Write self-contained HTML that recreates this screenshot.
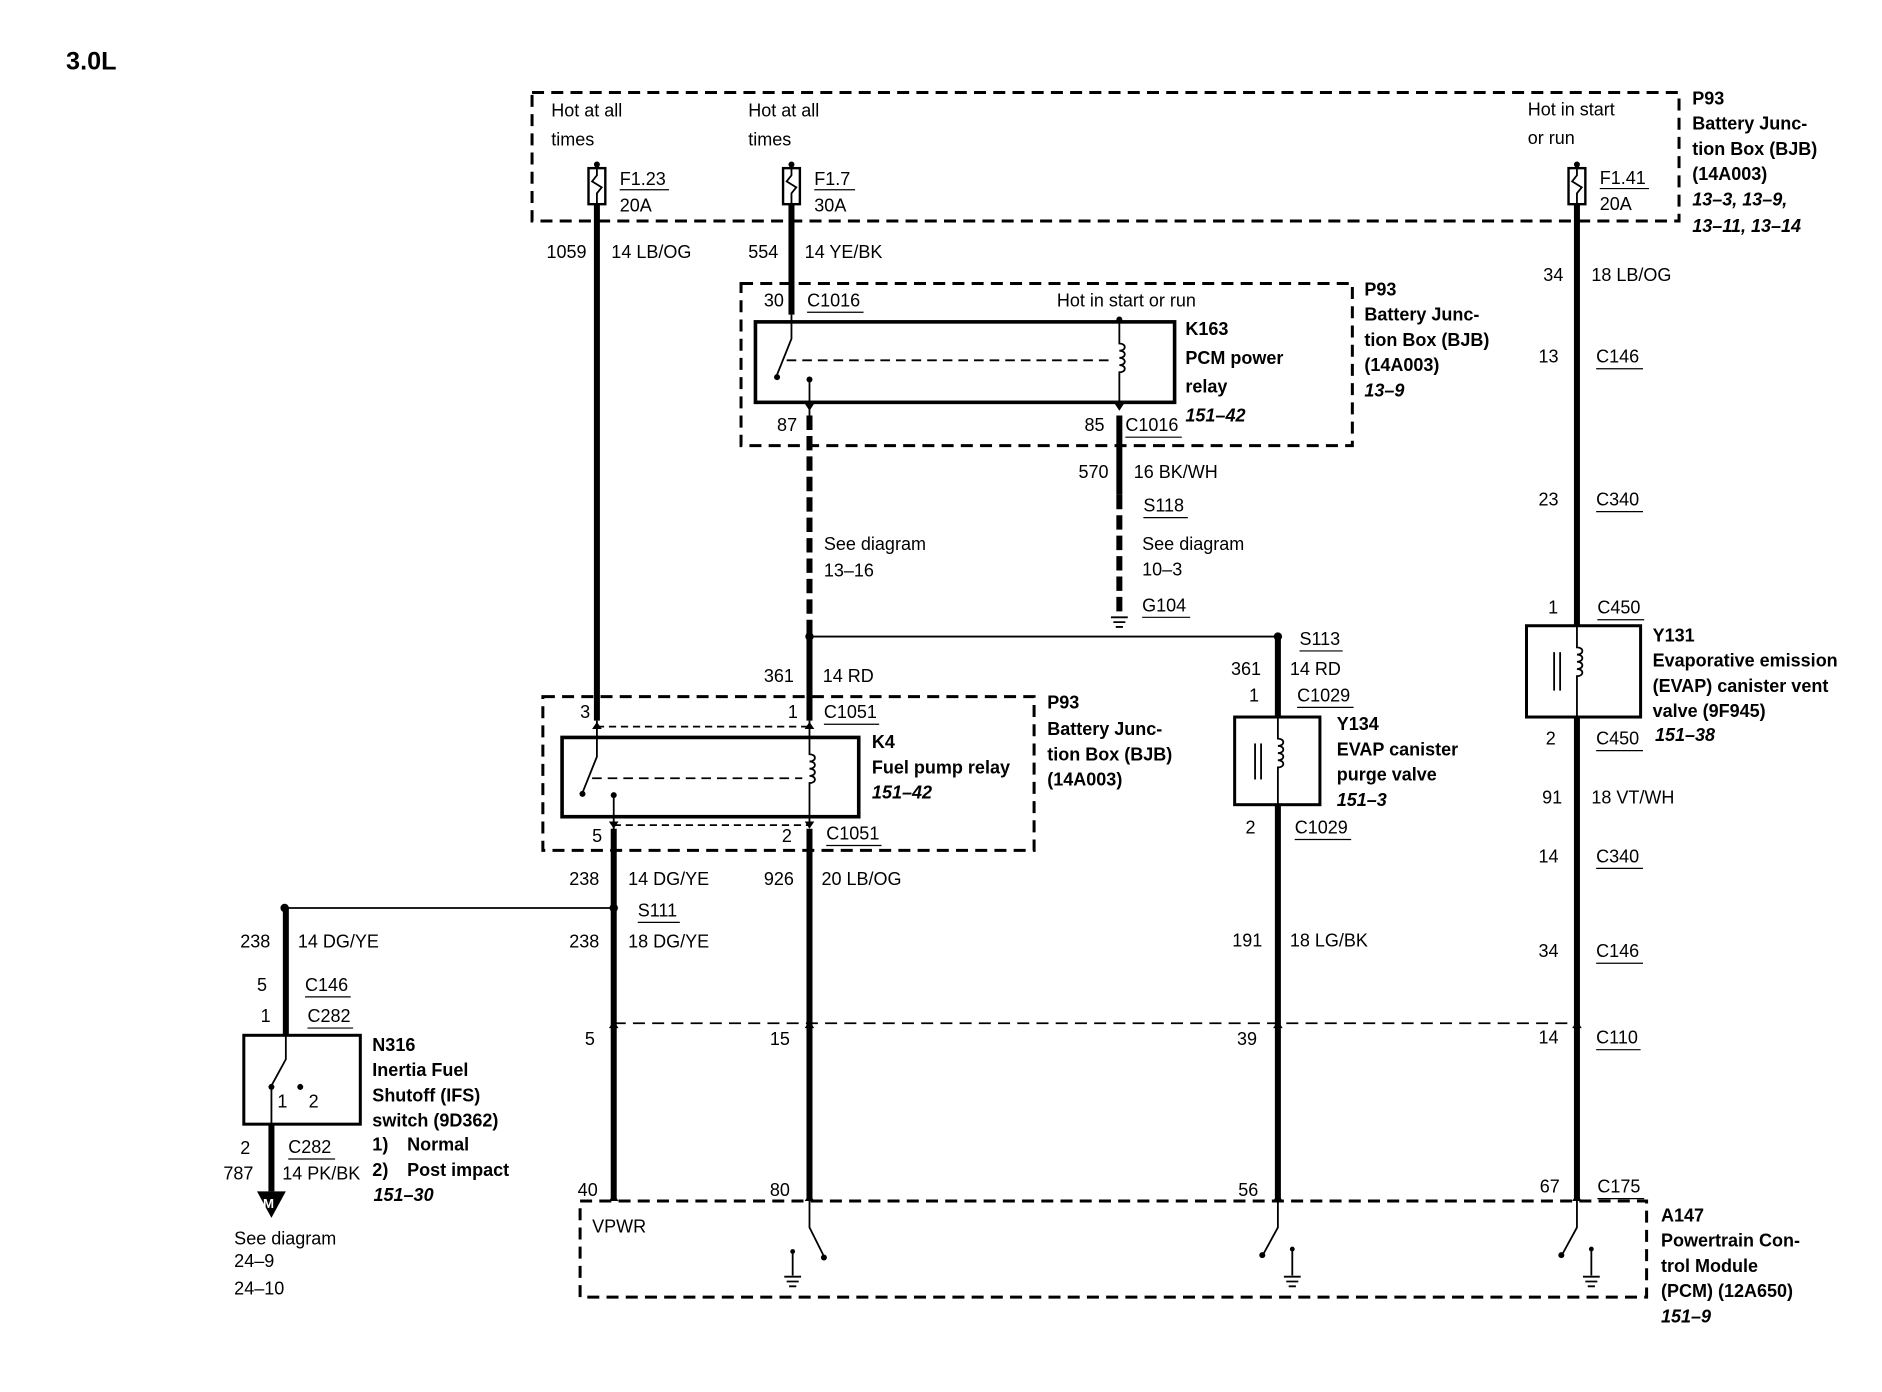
<!DOCTYPE html>
<html><head><meta charset="utf-8"><style>
html,body{margin:0;padding:0;background:#fff}
svg{display:block}
text{font-family:"Liberation Sans",sans-serif;font-size:15px;fill:#000}
.b{font-weight:bold}
.i{font-weight:bold;font-style:italic}
.box{fill:none;stroke:#000;stroke-width:2.5;stroke-dasharray:10 6}
.w{stroke:#000;stroke-width:5;fill:none}
.t{stroke:#000;stroke-width:1.5;fill:none}
.u{stroke:#000;stroke-width:1}
</style></head><body>
<svg width="1882" height="1392" viewBox="0 0 1567 1159" preserveAspectRatio="none">
<text x="55" y="58" class="b" style="font-size:21px">3.0L</text>

<rect class="box" x="443" y="77" width="955" height="107"/>
<text x="459" y="97">Hot at all</text><text x="459" y="121">times</text>
<text x="623" y="97">Hot at all</text><text x="623" y="121">times</text>
<text x="1272" y="96">Hot in start</text><text x="1272" y="120">or run</text>
<g id="fuses">
<rect x="490" y="140" width="14" height="30" fill="#fff" stroke="#000" stroke-width="2"/>
<path d="M497 140v6l-4 5 8 5-4 5v9" class="t"/>
<rect x="652" y="140" width="14" height="30" fill="#fff" stroke="#000" stroke-width="2"/>
<path d="M659 140v6l-4 5 8 5-4 5v9" class="t"/>
<rect x="1306" y="140" width="14" height="30" fill="#fff" stroke="#000" stroke-width="2"/>
<path d="M1313 140v6l-4 5 8 5-4 5v9" class="t"/>
<circle cx="497" cy="137" r="2.5"/><circle cx="659" cy="137" r="2.5"/><circle cx="1313" cy="137" r="2.5"/>
</g>
<text x="516" y="154">F1.23</text><line class="u" x1="516" y1="158" x2="557" y2="158"/><text x="516" y="176">20A</text>
<text x="678" y="154">F1.7</text><line class="u" x1="678" y1="158" x2="712" y2="158"/><text x="678" y="176">30A</text>
<text x="1332" y="153">F1.41</text><line class="u" x1="1332" y1="157" x2="1373" y2="157"/><text x="1332" y="175">20A</text>
<text x="1409" y="87" class="b">P93</text>
<text x="1409" y="108" class="b">Battery Junc-</text>
<text x="1409" y="129" class="b">tion Box (BJB)</text>
<text x="1409" y="150" class="b">(14A003)</text>
<text x="1409" y="171" class="i">13–3, 13–9,</text>
<text x="1409" y="193" class="i">13–11, 13–14</text>

<line class="w" x1="497" y1="170" x2="497" y2="600"/>
<text x="455" y="215">1059</text><text x="509" y="215">14 LB/OG</text>
<line class="w" x1="659" y1="170" x2="659" y2="262"/>
<text x="623" y="215">554</text><text x="670" y="215">14 YE/BK</text>
<line class="w" x1="1313" y1="170" x2="1313" y2="521"/>
<line class="w" x1="1313" y1="597" x2="1313" y2="1000"/>
<text x="1285" y="234">34</text><text x="1325" y="234">18 LB/OG</text>
<text x="1281" y="302">13</text><text x="1329" y="302">C146</text><line class="u" x1="1329" y1="307" x2="1368" y2="307"/>
<text x="1281" y="421">23</text><text x="1329" y="421">C340</text><line class="u" x1="1329" y1="426" x2="1368" y2="426"/>
<text x="1289" y="511">1</text><text x="1330" y="511">C450</text><line class="u" x1="1330" y1="516" x2="1369" y2="516"/>
<rect x="1271" y="521" width="95" height="76" fill="#fff" stroke="#000" stroke-width="2.5"/>
<path d="M1313 521v18c6 0 6 6 0 6c6 0 6 6 0 6c6 0 6 6 0 6c6 0 6 6 0 6v34" class="t"/>
<line x1="1294" y1="543" x2="1294" y2="575" class="t"/><line x1="1299" y1="543" x2="1299" y2="575" class="t"/>
<text x="1376" y="534" class="b">Y131</text>
<text x="1376" y="555" class="b">Evaporative emission</text>
<text x="1376" y="576" class="b">(EVAP) canister vent</text>
<text x="1376" y="597" class="b">valve (9F945)</text>
<text x="1378" y="617" class="i">151–38</text>
<text x="1287" y="620">2</text><text x="1329" y="620">C450</text><line class="u" x1="1329" y1="625" x2="1368" y2="625"/>
<text x="1284" y="669">91</text><text x="1325" y="669">18 VT/WH</text>
<text x="1281" y="718">14</text><text x="1329" y="718">C340</text><line class="u" x1="1329" y1="723" x2="1368" y2="723"/>
<text x="1281" y="797">34</text><text x="1329" y="797">C146</text><line class="u" x1="1329" y1="802" x2="1368" y2="802"/>
<text x="1281" y="869">14</text><text x="1329" y="869">C110</text><line class="u" x1="1329" y1="874" x2="1366" y2="874"/>
<text x="1282" y="993">67</text><text x="1330" y="993">C175</text><line class="u" x1="1330" y1="998" x2="1369" y2="998"/>

<rect class="box" x="617" y="236" width="509" height="135"/>
<rect x="629" y="268" width="349" height="67" fill="none" stroke="#000" stroke-width="3"/>
<path d="M659 262v20l-12 30" class="t"/><circle cx="647" cy="314" r="2.5"/>
<path d="M674 316v30" class="t"/><circle cx="674" cy="316" r="2.5"/>
<line x1="655" y1="300" x2="928" y2="300" class="t" stroke-dasharray="8 5"/>
<path d="M932 266v20c6 0 6 6 0 6c6 0 6 6 0 6c6 0 6 6 0 6c6 0 6 6 0 6v30" class="t"/><circle cx="932" cy="266" r="2.5"/>
<text x="636" y="255">30</text><text x="672" y="255">C1016</text><line class="u" x1="672" y1="260" x2="719" y2="260"/>
<text x="880" y="255">Hot in start or run</text>
<text x="987" y="279" class="b">K163</text>
<text x="987" y="303" class="b">PCM power</text>
<text x="987" y="327" class="b">relay</text>
<text x="987" y="351" class="i">151–42</text>
<text x="647" y="359">87</text><text x="903" y="359">85</text><text x="937" y="359">C1016</text><line class="u" x1="937" y1="364" x2="984" y2="364"/>
<text x="1136" y="246" class="b">P93</text>
<text x="1136" y="267" class="b">Battery Junc-</text>
<text x="1136" y="288" class="b">tion Box (BJB)</text>
<text x="1136" y="309" class="b">(14A003)</text>
<text x="1136" y="330" class="i">13–9</text>
<path d="M674 342l-4 -6h8z M932 342l-4 -6h8z"/>

<line class="w" x1="674" y1="346" x2="674" y2="530" stroke-dasharray="12 5"/>
<line class="w" x1="674" y1="530" x2="674" y2="600"/>
<text x="686" y="458">See diagram</text><text x="686" y="480">13–16</text>
<line class="w" x1="932" y1="346" x2="932" y2="412"/>
<line class="w" x1="932" y1="412" x2="932" y2="512" stroke-dasharray="12 5"/>
<path d="M925 514h14M927 518h10M929 522h6" class="t"/>
<text x="898" y="398">570</text><text x="944" y="398">16 BK/WH</text>
<text x="952" y="426">S118</text><line class="u" x1="952" y1="431" x2="989" y2="431"/>
<text x="951" y="458">See diagram</text><text x="951" y="479">10–3</text>
<text x="951" y="509">G104</text><line class="u" x1="951" y1="514" x2="991" y2="514"/>

<line class="t" x1="674" y1="530" x2="1064" y2="530"/>
<circle cx="674" cy="530" r="3.5"/><circle cx="1064" cy="530" r="3.5"/>
<text x="1082" y="537">S113</text><line class="u" x1="1082" y1="542" x2="1118" y2="542"/>
<text x="636" y="568">361</text><text x="685" y="568">14 RD</text>

<rect class="box" x="452" y="580" width="409" height="128"/>
<rect x="468" y="614" width="247" height="66" fill="none" stroke="#000" stroke-width="3"/>
<path d="M497 600v30l-12 30" class="t"/><circle cx="485" cy="661" r="2.5"/>
<path d="M511 662v30" class="t"/><circle cx="511" cy="662" r="2.5"/>
<line x1="493" y1="648" x2="668" y2="648" class="t" stroke-dasharray="8 5"/>
<path d="M674 600v28c6 0 6 6 0 6c6 0 6 6 0 6c6 0 6 6 0 6c6 0 6 6 0 6v34" class="t"/>
<path d="M497 601l-4 6h8z M674 601l-4 6h8z M511 690l-4 -6h8z M674 690l-4 -6h8z"/>
<line x1="497" y1="605" x2="674" y2="605" class="t" stroke-dasharray="6 4"/>
<line x1="511" y1="687" x2="674" y2="687" class="t" stroke-dasharray="6 4"/>
<text x="483" y="598">3</text><text x="656" y="598">1</text>
<text x="686" y="598">C1051</text><line class="u" x1="686" y1="603" x2="732" y2="603"/>
<text x="726" y="623" class="b">K4</text>
<text x="726" y="644" class="b">Fuel pump relay</text>
<text x="726" y="665" class="i">151–42</text>
<text x="872" y="590" class="b">P93</text>
<text x="872" y="612" class="b">Battery Junc-</text>
<text x="872" y="633" class="b">tion Box (BJB)</text>
<text x="872" y="654" class="b">(14A003)</text>
<text x="493" y="701">5</text><text x="651" y="701">2</text>
<text x="688" y="699">C1051</text><line class="u" x1="688" y1="704" x2="734" y2="704"/>

<line class="w" x1="511" y1="690" x2="511" y2="1000"/>
<line class="w" x1="674" y1="690" x2="674" y2="1000"/>
<text x="474" y="737">238</text><text x="523" y="737">14 DG/YE</text>
<text x="636" y="737">926</text><text x="684" y="737">20 LB/OG</text>
<line class="t" x1="237" y1="756" x2="511" y2="756"/>
<circle cx="237" cy="756" r="3.5"/><circle cx="511" cy="756" r="3.5"/>
<text x="531" y="763">S111</text><line class="u" x1="531" y1="768" x2="566" y2="768"/>
<text x="474" y="789">238</text><text x="523" y="789">18 DG/YE</text>

<line class="w" x1="238" y1="756" x2="238" y2="862"/>
<text x="200" y="789">238</text><text x="248" y="789">14 DG/YE</text>
<text x="214" y="825">5</text><text x="254" y="825">C146</text><line class="u" x1="254" y1="830" x2="292" y2="830"/>
<text x="217" y="851">1</text><text x="256" y="851">C282</text><line class="u" x1="256" y1="856" x2="294" y2="856"/>
<rect x="203" y="862" width="97" height="74" fill="#fff" stroke="#000" stroke-width="2.5"/>
<path d="M238 862v20l-12 22" class="t"/><circle cx="226" cy="905" r="2.5"/><circle cx="250" cy="905" r="2.5"/>
<path d="M226 905v31" class="t"/>
<text x="231" y="922">1</text><text x="257" y="922">2</text>
<line class="w" x1="226" y1="936" x2="226" y2="992"/>
<path d="M214 992h24l-12 22z"/><text x="219" y="1006" style="font-size:11px;fill:#fff" class="b">M</text>
<text x="200" y="961">2</text><text x="240" y="960">C282</text><line class="u" x1="240" y1="965" x2="279" y2="965"/>
<text x="186" y="982">787</text><text x="235" y="982">14 PK/BK</text>
<text x="195" y="1036">See diagram</text><text x="195" y="1055">24–9</text><text x="195" y="1078">24–10</text>
<text x="310" y="875" class="b">N316</text>
<text x="310" y="896" class="b">Inertia Fuel</text>
<text x="310" y="917" class="b">Shutoff (IFS)</text>
<text x="310" y="938" class="b">switch (9D362)</text>
<text x="310" y="958" class="b">1)</text><text x="339" y="958" class="b">Normal</text>
<text x="310" y="979" class="b">2)</text><text x="339" y="979" class="b">Post impact</text>
<text x="311" y="1000" class="i">151–30</text>

<line class="w" x1="1064" y1="530" x2="1064" y2="597"/>
<line class="w" x1="1064" y1="670" x2="1064" y2="1000"/>
<rect x="1028" y="597" width="71" height="73" fill="#fff" stroke="#000" stroke-width="2.5"/>
<path d="M1064 597v18c6 0 6 6 0 6c6 0 6 6 0 6c6 0 6 6 0 6c6 0 6 6 0 6v31" class="t"/>
<line x1="1045" y1="619" x2="1045" y2="649" class="t"/><line x1="1050" y1="619" x2="1050" y2="649" class="t"/>
<text x="1025" y="562">361</text><text x="1074" y="562">14 RD</text>
<text x="1040" y="584">1</text><text x="1080" y="584">C1029</text><line class="u" x1="1080" y1="589" x2="1127" y2="589"/>
<text x="1113" y="608" class="b">Y134</text>
<text x="1113" y="629" class="b">EVAP canister</text>
<text x="1113" y="650" class="b">purge valve</text>
<text x="1113" y="671" class="i">151–3</text>
<text x="1037" y="694">2</text><text x="1078" y="694">C1029</text><line class="u" x1="1078" y1="699" x2="1125" y2="699"/>
<text x="1026" y="788">191</text><text x="1074" y="788">18 LG/BK</text>

<line x1="511" y1="852" x2="1313" y2="852" class="t" stroke-dasharray="10 6"/>
<path d="M511 850l-4 6h8zM674 850l-4 6h8zM1064 850l-4 6h8zM1313 850l-4 6h8z"/>
<text x="487" y="870">5</text><text x="641" y="870">15</text><text x="1030" y="870">39</text>

<rect class="box" x="483" y="1000" width="888" height="80"/>
<path d="M511 994l-4 6h8zM674 994l-4 6h8zM1064 994l-4 6h8zM1313 994l-4 6h8z"/>
<text x="481" y="996">40</text><text x="641" y="996">80</text><text x="1031" y="996">56</text>
<text x="493" y="1026">VPWR</text>
<path d="M674 1000v22l12 24" class="t"/><circle cx="686" cy="1047" r="2.5"/>
<path d="M660 1042v20M653 1063h14M655 1067h10M657 1071h6" class="t"/><circle cx="660" cy="1042" r="2"/>
<path d="M1064 1000v22l-12 22" class="t"/><circle cx="1051" cy="1045" r="2.5"/>
<path d="M1076 1040v22M1069 1063h14M1071 1067h10M1073 1071h6" class="t"/><circle cx="1076" cy="1040" r="2"/>
<path d="M1313 1000v22l-12 22" class="t"/><circle cx="1300" cy="1045" r="2.5"/>
<path d="M1325 1040v22M1318 1063h14M1320 1067h10M1322 1071h6" class="t"/><circle cx="1325" cy="1040" r="2"/>
<text x="1383" y="1017" class="b">A147</text>
<text x="1383" y="1038" class="b">Powertrain Con-</text>
<text x="1383" y="1059" class="b">trol Module</text>
<text x="1383" y="1080" class="b">(PCM) (12A650)</text>
<text x="1383" y="1101" class="i">151–9</text>
</svg>
</body></html>
